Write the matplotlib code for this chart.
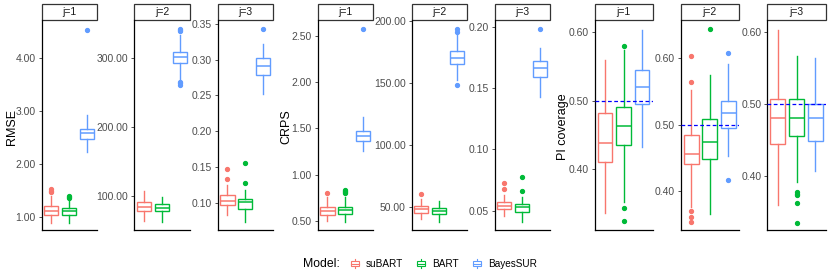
import matplotlib
matplotlib.use("Agg")
import matplotlib.pyplot as plt
from matplotlib.patches import Rectangle, Patch
from matplotlib.lines import Line2D
from matplotlib.legend_handler import HandlerBase

plt.rcParams['font.family'] = ['Liberation Sans', 'DejaVu Sans']

models = ["suBART", "BART", "BayesSUR"]
colors = ["#F8766D", "#00BA38", "#619CFF"]
facets = ["j=1", "j=2", "j=3"]
metrics = ["RMSE", "CRPS", "PI coverage"]

# box stats per model: [whisker low, q1, median, q3, whisker high]
rmse_j1_stats = [[0.89, 1.03, 1.10, 1.195, 1.40], [0.89, 1.04, 1.11, 1.16, 1.31], [2.22, 2.46, 2.58, 2.66, 2.92]]
rmse_j1_out = [[1.46, 1.49, 1.52], [1.36, 1.38, 1.40], [4.53]]
rmse_j2_stats = [[63.6, 77.7, 84.0, 91.3, 106.8], [62.0, 77.3, 82.5, 88.4, 98.5], [268.0, 293.6, 301.5, 309.6, 334.0]]
rmse_j2_out = [[], [], [340.0, 341.5, 343.0, 261.0, 263.5, 266.0]]
rmse_j3_stats = [[0.0823, 0.0963, 0.1028, 0.1103, 0.125], [0.0733, 0.0907, 0.101, 0.1056, 0.1178], [0.2514, 0.279, 0.291, 0.3023, 0.322]]
rmse_j3_out = [[0.1335, 0.147], [0.127, 0.1556], [0.3426]]

crps_j1_stats = [[0.507, 0.568, 0.611, 0.657, 0.76], [0.496, 0.579, 0.622, 0.654, 0.76], [1.26, 1.364, 1.424, 1.478, 1.623]]
crps_j1_out = [[0.81], [0.805, 0.82, 0.83, 0.84], [2.569]]
crps_j2_stats = [[40.6, 45.2, 48.4, 51.3, 56.4], [38.4, 44.4, 47.3, 49.7, 55.0], [152.7, 165.2, 169.8, 175.3, 188.5]]
crps_j2_out = [[60.4], [], [191.0, 193.0, 148.3]]
crps_j3_stats = [[0.0457, 0.0511, 0.0541, 0.0573, 0.0628], [0.041, 0.0487, 0.0528, 0.0555, 0.0614], [0.1429, 0.1593, 0.166, 0.1723, 0.1829]]
crps_j3_out = [[0.068, 0.0726], [0.066, 0.0778], [0.1978]]

pi_j1_stats = [[0.3356, 0.410, 0.439, 0.4825, 0.5595], [0.353, 0.4348, 0.463, 0.4912, 0.574], [0.432, 0.4952, 0.5196, 0.545, 0.603]]
pi_j1_out = [[], [0.580, 0.343, 0.324], []]
pi_j2_stats = [[0.3755, 0.4396, 0.4562, 0.4849, 0.552], [0.3655, 0.4476, 0.4737, 0.508, 0.5745], [0.4526, 0.4949, 0.5176, 0.5357, 0.591]]
pi_j2_out = [[0.6035, 0.564, 0.369, 0.360, 0.352], [0.6438], [0.6076, 0.4155]]
pi_j3_stats = [[0.360, 0.4443, 0.48, 0.5074, 0.603], [0.392, 0.4558, 0.48, 0.5074, 0.5675], [0.4075, 0.448, 0.48, 0.50, 0.5638]]
pi_j3_out = [[], [0.377, 0.375, 0.373, 0.3625, 0.3346], []]

pi_target = 0.50

stats_all = [[rmse_j1_stats, rmse_j2_stats, rmse_j3_stats],
             [crps_j1_stats, crps_j2_stats, crps_j3_stats],
             [pi_j1_stats, pi_j2_stats, pi_j3_stats]]
out_all = [[rmse_j1_out, rmse_j2_out, rmse_j3_out],
           [crps_j1_out, crps_j2_out, crps_j3_out],
           [pi_j1_out, pi_j2_out, pi_j3_out]]

yticks_all = [[[1, 2, 3, 4], [100, 200, 300], [0.10, 0.15, 0.20, 0.25, 0.30, 0.35]],
              [[0.5, 1.0, 1.5, 2.0, 2.5], [50, 100, 150, 200], [0.05, 0.10, 0.15, 0.20]],
              [[0.4, 0.5, 0.6], [0.4, 0.5, 0.6], [0.4, 0.5, 0.6]]]
ylims_all = [[(0.75, 4.71), (50, 355.7), (0.0617, 0.3556)],
             [(0.406, 2.669), (31.8, 200.5), (0.0343, 0.2055)],
             [(0.3114, 0.618), (0.3406, 0.658), (0.3248, 0.617)]]

# layout (pixels)
W, H = 830, 277
panel_x = [[(41.5, 96.5), (134, 190), (217.5, 273)],
           [(317.5, 373), (411.5, 466.5), (494.5, 549.5)],
           [(594.5, 652.5), (680.5, 739), (767, 826)]]
top_px, bot_px, strip_top = 20, 230, 4
ylabel_x = [12, 286, 563]

fig = plt.figure(figsize=(W / 100, H / 100), dpi=100)
txt_grey = "#4D4D4D"

for g in range(3):
    for j in range(3):
        x0, x1 = panel_x[g][j]
        ax = fig.add_axes([x0 / W, 1 - bot_px / H, (x1 - x0) / W, (bot_px - top_px) / H])
        st = stats_all[g][j]
        outs = out_all[g][j]
        bxp_stats = []
        for k in range(3):
            lo, q1, med, q3, hi = st[k]
            bxp_stats.append(dict(whislo=lo, q1=q1, med=med, q3=q3, whishi=hi, fliers=outs[k], label=models[k]))
        bp = ax.bxp(bxp_stats, positions=[1, 2, 3], widths=0.8, patch_artist=True, showcaps=False)
        for k in range(3):
            c = colors[k]
            bp['boxes'][k].set(facecolor='white', edgecolor=c, linewidth=1.0)
            bp['medians'][k].set(color=c, linewidth=1.1)
            for w in bp['whiskers'][2 * k:2 * k + 2]:
                w.set(color=c, linewidth=1.0)
            bp['fliers'][k].set(marker='o', markerfacecolor=c, markeredgecolor=c, markersize=2.8, linestyle='none')
        if g == 2:
            ax.axhline(pi_target, color='#0000FF', linestyle=(0, (3, 2)), linewidth=0.9, zorder=5)
        xl = (0.45, 3.55) if g < 2 else (0.42, 3.58)
        ax.set_xlim(*xl)
        ax.set_ylim(*ylims_all[g][j])
        ax.set_xticks([])
        ticks = yticks_all[g][j]
        ax.set_yticks(ticks)
        ax.set_yticklabels(["%.2f" % t for t in ticks])
        ax.tick_params(axis='y', labelsize=7.5, colors='#333333', labelcolor=txt_grey, length=2.5, width=0.6, pad=1.5)
        for s in ['top', 'right']:
            ax.spines[s].set_visible(False)
        for s in ['left', 'bottom']:
            ax.spines[s].set_linewidth(0.9)
            ax.spines[s].set_color('black')
        ax.set_facecolor('white')
        # strip
        sh = (top_px - strip_top) / (bot_px - top_px)
        ax.add_patch(Rectangle((0, 1), 1, sh, transform=ax.transAxes, clip_on=False,
                               facecolor='white', edgecolor='#333333', linewidth=0.9))
        ax.text(0.5, 1 + sh / 2, facets[j], transform=ax.transAxes, ha='center', va='center',
                fontsize=7.5, color='#1A1A1A')
    fig.text(ylabel_x[g] / W, 1 - 127 / H, metrics[g], rotation=90, ha='center', va='center',
             fontsize=9, color='black')


class BoxKey(HandlerBase):
    def create_artists(self, legend, orig_handle, xdescent, ydescent, width, height, fontsize, trans):
        c = orig_handle.get_edgecolor()
        x0, y0 = -xdescent, -ydescent
        cx = x0 + width / 2
        bw = width * 0.8
        r = Rectangle((cx - bw / 2, y0 + height * 0.2), bw, height * 0.6, facecolor='white',
                      edgecolor=c, linewidth=0.8, transform=trans)
        m = Line2D([cx - bw / 2, cx + bw / 2], [y0 + height / 2] * 2, color=c, linewidth=0.8, transform=trans)
        w1 = Line2D([cx, cx], [y0 - height * 0.05, y0 + height * 0.2], color=c, linewidth=0.8, transform=trans)
        w2 = Line2D([cx, cx], [y0 + height * 0.8, y0 + height * 1.05], color=c, linewidth=0.8, transform=trans)
        return [w1, w2, r, m]


handles = [Patch(facecolor='white', edgecolor=c) for c in colors]
fig.text(303 / W, 1 - 264 / H, "Model:", ha='left', va='center', fontsize=8.8, color='black')
fig.legend(handles, models, handler_map={Patch: BoxKey()}, loc='center left',
           bbox_to_anchor=(343 / W, 1 - 264 / H), ncol=3, frameon=False, fontsize=7.2,
           handlelength=1.0, handleheight=0.9, handletextpad=0.6, columnspacing=1.3, borderpad=0.2)

fig.savefig("out.png", dpi=100, facecolor='white')
